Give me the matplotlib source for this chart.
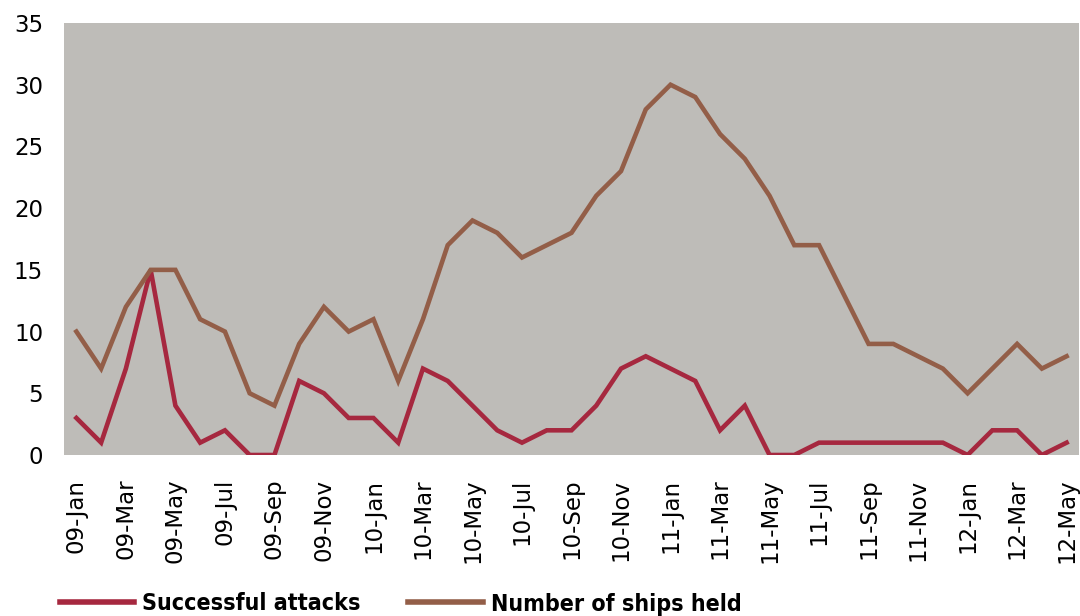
import matplotlib
matplotlib.use("Agg")
import matplotlib.pyplot as plt

months = ["Jan", "Feb", "Mar", "Apr", "May", "Jun", "Jul", "Aug", "Sep", "Oct", "Nov", "Dec"]
categories = [f"{y:02d}-{m}" for y in (9, 10, 11, 12) for m in months][:41]

successful_attacks = [3, 1, 7, 15, 4, 1, 2, 0, 0, 6, 5, 3, 3, 1,
                      7, 6, 4, 2, 1, 2, 2, 4, 7, 8, 7, 6, 2,
                      4, 0, 0, 1, 1, 1, 1, 1, 1, 0, 2, 2, 0, 1]
ships_held = [10, 7, 12, 15, 15, 11, 10, 5, 4, 9, 12, 10, 11, 6,
              11, 17, 19, 18, 16, 17, 18, 21, 23, 28, 30, 29, 26,
              24, 21, 17, 17, 13, 9, 9, 8, 7, 5, 7, 9, 7, 8]
series_names = ["Successful attacks", "Number of ships held"]
yticks = [0, 5, 10, 15, 20, 25, 30, 35]

red = "#A6283F"
brown = "#935E48"
bg = "#BEBCB8"

leg_font = dict(family="DejaVu Sans", weight="bold", size=16.7, stretch="condensed")

fig = plt.figure(figsize=(10.8, 6.16), dpi=100)
ax = fig.add_axes([64 / 1080, 1 - 455 / 616, 1015 / 1080, 432 / 616])
ax.set_facecolor(bg)

x = list(range(len(categories)))
ax.plot(x, successful_attacks, color=red, lw=3.3, label=series_names[0], solid_joinstyle="miter")
ax.plot(x, ships_held, color=brown, lw=3.3, label=series_names[1], solid_joinstyle="miter")

ax.set_xlim(-0.5, len(categories) - 0.5)
ax.set_ylim(0, 35)
ax.set_yticks(yticks)
ax.set_yticklabels([str(v) for v in yticks], fontsize=16.5, family="DejaVu Sans")
ax.set_xticks(x[::2])
ax.set_xticklabels(categories[::2], rotation=90, fontsize=16.5, family="DejaVu Sans")
ax.tick_params(axis="y", length=0, pad=15)
ax.tick_params(axis="x", length=0, pad=17)
for s in ax.spines.values():
    s.set_visible(False)

leg = fig.legend(loc="center left", bbox_to_anchor=(60 / 1080, 1 - 604 / 616), ncol=2,
                 frameon=False, prop=leg_font, handlelength=3.2, handletextpad=0.35,
                 columnspacing=2.05, borderpad=0, borderaxespad=0)
for h in leg.get_lines():
    h.set_linewidth(4.0)

fig.savefig("out.png", dpi=100)
